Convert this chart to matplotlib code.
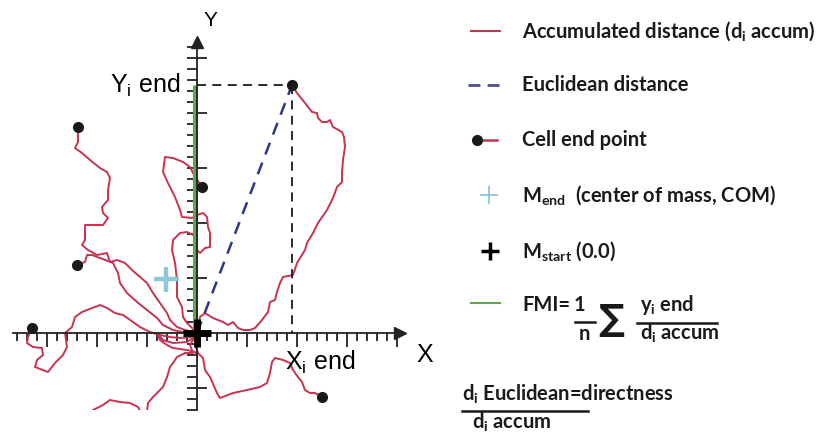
import matplotlib
matplotlib.use("Agg")
import matplotlib.pyplot as plt
from matplotlib.ticker import MultipleLocator, NullFormatter

W, H = 819, 433

# cell tracks, every one starts at (0, 0); units as in the original plot
track_a = [(0, 0), (3, 16), (8, 20), (16, 15), (26, 11), (31, 8), (36, 11), (41, 5), (46, 3),
           (53, 3), (58, 5), (65, 13), (71, 21), (73, 31), (78, 33), (80, 41), (83, 50), (86, 56),
           (96, 58), (100, 70), (108, 83), (110, 90), (116, 100), (121, 110), (130, 123),
           (136, 135), (140, 146), (145, 151), (145, 160), (146, 173), (148, 186), (147, 196),
           (145, 201), (136, 206), (133, 213), (130, 211), (125, 211), (121, 215), (120, 220),
           (115, 221), (108, 230), (100, 240), (95, 248)]
track_b = [(0, 0), (-5, 5), (-10, 10), (-14, 16), (-15, 26), (-20, 36), (-20, 53), (-22, 70),
           (-25, 83), (-24, 93), (-17, 100), (-10, 101), (-2, 97), (0, 83), (3, 80), (8, 85),
           (13, 86), (13, 100), (11, 106), (10, 116), (6, 120), (0, 118), (-5, 115), (-15, 116),
           (-17, 123), (-22, 136), (-29, 150), (-34, 161), (-32, 176), (-24, 175), (-14, 171),
           (-7, 166), (-3, 158), (5, 146)]
track_c = [(0, 0), (-12, 3), (-20, 6), (-27, 13), (-30, 20), (-37, 30), (-44, 40), (-50, 50),
           (-57, 56), (-65, 63), (-72, 70), (-80, 73), (-87, 71), (-90, 80), (-100, 78),
           (-109, 83), (-115, 88), (-112, 93), (-112, 108), (-94, 108), (-89, 115), (-94, 120),
           (-95, 126), (-89, 133), (-89, 143), (-87, 155), (-90, 161), (-97, 165), (-107, 173),
           (-115, 180), (-122, 185), (-119, 191), (-119, 200), (-119, 206)]
track_d = [(0, 0), (-10, 0), (-24, 3), (-34, 8), (-40, 15), (-50, 23), (-60, 31), (-70, 40),
           (-77, 50), (-79, 60), (-84, 70), (-97, 75), (-105, 78), (-110, 78), (-112, 71),
           (-120, 68)]
track_e = [(0, 0), (-4, -4), (-17, -5), (-27, -4), (-37, -2), (-47, 1), (-57, 6), (-64, 11),
           (-74, 18), (-82, 20), (-90, 25), (-97, 28), (-115, 21), (-122, 16), (-125, 6),
           (-132, 0), (-130, -14), (-134, -22), (-142, -30), (-149, -39), (-162, -34),
           (-160, -27), (-154, -22), (-155, -15), (-164, -14), (-170, -10), (-169, -4), (-165, 5)]
track_f = [(0, 0), (-2, -12), (1, -20), (6, -25), (8, -37), (13, -44), (20, -60), (23, -65),
           (36, -60), (50, -57), (63, -54), (70, -50), (73, -40), (75, -29), (78, -25), (86, -27),
           (93, -30), (96, -37), (101, -44), (105, -49), (108, -57), (113, -60), (118, -60),
           (125, -64)]
# these leave the field of view, no end point shown
track_g = [(0, 0), (-7, -12), (-4, -20), (-12, -20), (-20, -24), (-24, -30), (-27, -34),
           (-30, -44), (-34, -54), (-37, -57), (-44, -64), (-49, -70), (-50, -79), (-51, -92)]
track_h = [(-107, -92), (-104, -77), (-94, -72), (-87, -67), (-77, -69), (-67, -70), (-59, -74),
           (-55, -82), (-52, -92)]
track_i = [(0, 0), (-2, -4), (-10, -9), (-24, -10), (-34, -7), (-40, 0), (-37, -7), (-30, -12),
           (-24, -15), (-10, -17), (-2, -19), (0, -23)]

tracks = [track_a, track_b, track_c, track_d, track_e, track_f, track_g, track_h, track_i]
tracks_with_end = [track_a, track_b, track_c, track_d, track_e, track_f]
highlight = track_a
com_end = (-31, 54)
start = (0, 0)

legend_labels = [
    r"Accumulated distance (d$_\mathregular{i}$ accum)",
    "Euclidean distance",
    "Cell end point",
    r"M$_\mathregular{end}$  (center of mass, COM)",
    r"M$_\mathregular{start}$ (0.0)",
]

track_color = "#c8334f"
euclid_color = "#2c3590"
legend_blue = "#4d4f8f"
fmi_green = "#5aa94a"
com_color = "#8cc8d8"
ink = "#1a1a1a"

plt.rcParams["font.family"] = ["Liberation Sans", "DejaVu Sans"]

fig = plt.figure(figsize=(W / 100, H / 100), dpi=100)

ax = fig.add_axes([13 / W, 23 / H, 387 / W, 368 / H])
ax.set_xlim(-184, 203)
ax.set_ylim(-77, 291)
ax.set_facecolor("none")

for tr in tracks:
    xs, ys = zip(*tr)
    ax.plot(xs, ys, color=track_color, lw=1.4, zorder=2)
for tr in tracks_with_end:
    ax.plot(*tr[-1], "o", color=ink, ms=7, zorder=5)

# axes through the origin, with arrows
for side in ["top", "right"]:
    ax.spines[side].set_visible(False)
for side in ["left", "bottom"]:
    ax.spines[side].set_position(("data", 0))
    ax.spines[side].set_linewidth(1.3)
    ax.spines[side].set_color("#222222")
    ax.spines[side].set_zorder(4)
ax.xaxis.set_major_locator(MultipleLocator(50))
ax.xaxis.set_minor_locator(MultipleLocator(10))
ax.yaxis.set_major_locator(MultipleLocator(55))
ax.yaxis.set_minor_locator(MultipleLocator(11))
ax.xaxis.set_major_formatter(NullFormatter())
ax.yaxis.set_major_formatter(NullFormatter())
ax.tick_params(axis="x", which="major", direction="out", length=10, width=1.3, color="#222222")
ax.tick_params(axis="x", which="minor", direction="out", length=6, width=1.3, color="#222222")
ax.tick_params(axis="y", which="major", direction="inout", length=14, width=1.3, color="#222222")
ax.tick_params(axis="y", which="minor", direction="out", length=7, width=1.3, color="#222222")
ax.plot(1, 0, ">", color="#222222", ms=8, transform=ax.get_yaxis_transform(), clip_on=False)
ax.plot(0, 1, "^", color="#222222", ms=8, transform=ax.get_xaxis_transform(), clip_on=False)

xe, ye = highlight[-1]
ax.plot([-2.5, -2.5], [0, ye], color=fmi_green, lw=3.6, solid_capstyle="butt", zorder=3)
ax.plot([0, xe], [0, ye], color=euclid_color, lw=1.8, dashes=(5, 3.5), zorder=3)
ax.plot([0, xe], [ye, ye], color=ink, lw=1.3, dashes=(5, 3.5), zorder=3)
ax.plot([xe, xe], [ye, 0], color=ink, lw=1.3, dashes=(5, 3.5), zorder=3)
ax.plot(*com_end, "+", color=com_color, ms=18, mew=3.2, zorder=5)
ax.plot(*start, "+", color="black", ms=20, mew=5, zorder=6)

ax.text(13, 313, "Y", fontsize=15, ha="center", va="center")
ax.text(228, -22, "X", fontsize=18, ha="center", va="center")
ax.text(-17, ye, r"Y$_\mathregular{i}$ end", fontsize=18, ha="right", va="center")
ax.text(88, -29, r"X$_\mathregular{i}$ end", fontsize=18, ha="left", va="center")

# legend and formulas, laid out in figure pixels
lax = fig.add_axes([0, 0, 1, 1])
lax.set_xlim(0, W)
lax.set_ylim(H, 0)
lax.axis("off")

lfont = dict(family=["Lato", "DejaVu Sans"], weight="bold", fontsize=14.5, color=ink)
rows_y = [31, 85, 140, 195, 251]
for y, label in zip(rows_y, legend_labels):
    lax.text(522, y, label, va="center", **lfont)

lax.plot([471, 500], [31, 31], color=track_color, lw=1.5)
lax.plot([468, 499], [85, 85], color=legend_blue, lw=2, dashes=(4.3, 2.6))
lax.plot([479, 497], [140, 140], color=track_color, lw=1.8)
lax.plot(477, 140, "o", color=ink, ms=7)
lax.plot(489, 195, "+", color=com_color, ms=13, mew=1.3)
lax.plot(490, 251, "+", color="black", ms=13, mew=2.5)
lax.plot([471, 500], [303, 303], color=fmi_green, lw=1.5)

# FMI formula
lax.text(522, 305, "FMI=", va="center", **lfont)
lax.text(579, 305, "1", ha="center", va="center", **lfont)
lax.plot([575, 595], [322, 322], color=ink, lw=1.8)
lax.text(584, 334, "n", ha="center", va="center", **lfont)
lax.text(611, 320, "\u2211", ha="center", va="center", family="DejaVu Sans", weight="bold",
         fontsize=26, color=ink)
lax.text(640, 305, r"y$_\mathregular{i}$ end", va="center", **lfont)
lax.plot([637, 717], [323, 323], color=ink, lw=1.8)
lax.text(640, 333, r"d$_\mathregular{i}$ accum", va="center", **lfont)

# directness
lax.text(462, 394, r"d$_\mathregular{i}$ Euclidean=directness", va="center", **lfont)
lax.plot([462, 588], [411, 411], color=ink, lw=1.8)
lax.text(472, 422, r"d$_\mathregular{i}$ accum", va="center", **lfont)

fig.savefig("out.png", dpi=100)
